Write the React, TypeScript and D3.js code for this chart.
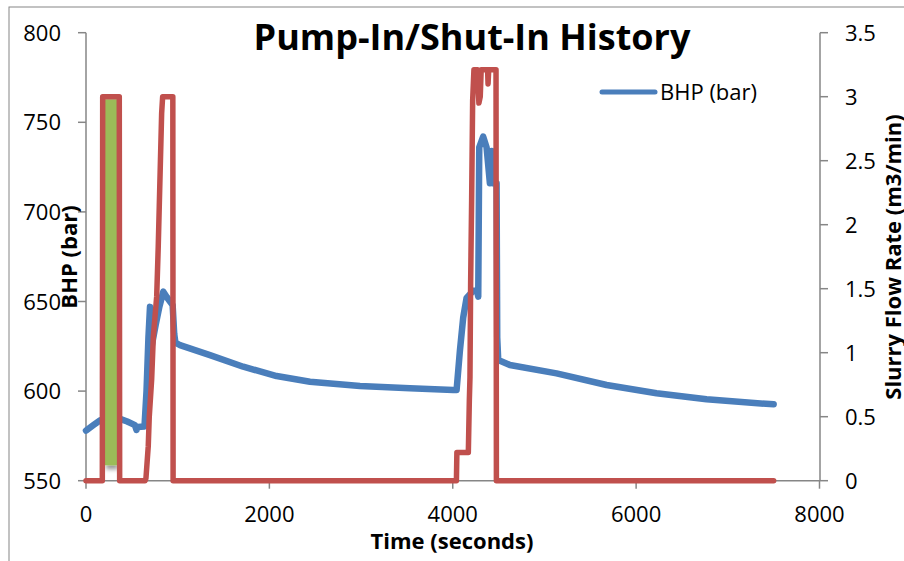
import React from "react";
import * as d3 from "d3";

// ---- data ----
const bhpTime = [0, 80, 153, 240, 371, 450, 534, 551, 562, 638, 660, 681, 698, 709, 716, 760, 800, 843, 880, 916, 945, 962, 975, 1025, 1352, 1715, 2079, 2443, 2988, 3533, 4005, 4042, 4078, 4114, 4151, 4223, 4265, 4278, 4289, 4332, 4369, 4405, 4424, 4441, 4478, 4485, 4496, 4623, 5132, 5678, 6223, 6768, 7500];
const bhpValue = [578, 581, 583.7, 585, 584.5, 583, 581, 578.3, 580, 580.3, 600, 630, 647, 632, 625, 637, 647, 655.5, 652.5, 650, 648, 632, 627, 625.7, 620.1, 613.6, 608.4, 605.2, 602.8, 601.6, 600.6, 600.6, 622.5, 641, 652, 656, 656, 652.7, 736, 742, 736, 716, 734, 716, 716, 630, 617.4, 614.6, 609.9, 603.4, 598.8, 595.4, 592.6];

const rateTime = [0, 178, 182, 363, 367, 645, 654, 679, 690, 716, 734, 771, 788, 799, 825, 836, 947, 950, 4040, 4045, 4170, 4181, 4188, 4195, 4206, 4217, 4231, 4270, 4285, 4300, 4310, 4380, 4385, 4392, 4472, 4476, 7500];
const rateValue = [0, 0, 3.0, 3.0, 0, 0, 0.02, 0.27, 0.5, 0.79, 1.12, 1.44, 1.83, 2.14, 2.87, 3.0, 3.0, 0, 0, 0.22, 0.22, 0.63, 0.81, 1.54, 2.19, 2.97, 3.21, 3.21, 2.95, 3.0, 3.21, 3.21, 3.1, 3.21, 3.21, 0, 0];

// green stage band (time start/end, rate low/high)
const bandTime = [207, 338];
const bandRate = [0.12, 2.98];

const xTicks = [0, 2000, 4000, 6000, 8000];
const leftTicks = [550, 600, 650, 700, 750, 800];
const rightTicks = [0, 0.5, 1, 1.5, 2, 2.5, 3, 3.5];

const title = "Pump-In/Shut-In History";
const xTitle = "Time (seconds)";
const leftTitle = "BHP (bar)";
const rightTitle = "Slurry Flow Rate (m3/min)";
const legendLabel = "BHP (bar)";

const W = 904;
const H = 561;
const FONT = "'Open Sans', 'Noto Sans', sans-serif";
const AXIS = "#868686";
const BLUE = "#4A7EBB";
const RED = "#C0504D";
const GREEN = "#9BBB59";

export default function App() {
  const x = d3.scaleLinear().domain([0, 8000]).range([86, 819.5]);
  const yL = d3.scaleLinear().domain([550, 800]).range([480.7, 32.7]);
  const yR = d3.scaleLinear().domain([0, 3.5]).range([480.7, 32.7]);

  const bhp = bhpTime.map((t, i) => [t, bhpValue[i]] as [number, number]);
  const rate = rateTime.map((t, i) => [t, rateValue[i]] as [number, number]);

  const bhpLine = d3.line<[number, number]>().x((d) => x(d[0])).y((d) => yL(d[1]));
  const rateLine = d3.line<[number, number]>().x((d) => x(d[0])).y((d) => yR(d[1]));

  const x0 = x.range()[0];
  const yb = yL.range()[0];
  const yt = yL.range()[1];

  return (
    <svg
      width={W}
      height={H}
      style={{ position: "absolute", left: 0, top: 0, background: "#fff" }}
      fontFamily={FONT}
    >
      <defs>
        <filter id="shadow" x="-50%" y="-10%" width="200%" height="130%">
          <feGaussianBlur in="SourceAlpha" stdDeviation="2" />
          <feOffset dx="1" dy="4" result="b" />
          <feComponentTransfer>
            <feFuncA type="linear" slope="0.4" />
          </feComponentTransfer>
          <feMerge>
            <feMergeNode />
            <feMergeNode in="SourceGraphic" />
          </feMerge>
        </filter>
      </defs>
      {/* outer frame */}
      <rect x={9} y={7} width={W} height={H} fill="none" stroke={AXIS} strokeWidth={1} />

      {/* axes */}
      <line x1={x0} x2={x0} y1={yt} y2={yb} stroke={AXIS} strokeWidth={1.5} />
      <line x1={820} x2={820} y1={yt} y2={yb} stroke={AXIS} strokeWidth={1.5} />
      <line x1={x0} x2={820} y1={yb} y2={yb} stroke={AXIS} strokeWidth={1.5} />
      {leftTicks.map((v) => (
        <g key={"l" + v}>
          <line x1={x0 - 8} x2={x0} y1={yL(v)} y2={yL(v)} stroke={AXIS} strokeWidth={1.5} />
          <text x={61} y={yL(v) + 8} textAnchor="end" fontSize={22} fill="#000">
            {v}
          </text>
        </g>
      ))}
      {rightTicks.map((v) => (
        <g key={"r" + v}>
          <line x1={820} x2={828} y1={yR(v)} y2={yR(v)} stroke={AXIS} strokeWidth={1.5} />
          <text x={845} y={yR(v) + 8} textAnchor="start" fontSize={22} fill="#000">
            {v}
          </text>
        </g>
      ))}
      {xTicks.map((v) => (
        <g key={"x" + v}>
          <line x1={x(v)} x2={x(v)} y1={yb} y2={yb + 8} stroke={AXIS} strokeWidth={1.5} />
          <text x={x(v)} y={522} textAnchor="middle" fontSize={22} fill="#000">
            {v}
          </text>
        </g>
      ))}

      {/* series */}
      <path d={bhpLine(bhp) || ""} fill="none" stroke={BLUE} strokeWidth={6.5} strokeLinejoin="round" strokeLinecap="round" />
      <rect
        x={x(bandTime[0])}
        y={yR(bandRate[1])}
        width={x(bandTime[1]) - x(bandTime[0])}
        height={yR(bandRate[0]) - yR(bandRate[1])}
        fill={GREEN}
        filter="url(#shadow)"
      />
      <path d={rateLine(rate) || ""} fill="none" stroke={RED} strokeWidth={5.5} strokeLinejoin="round" strokeLinecap="round" />

      {/* titles */}
      <text x={472} y={50} textAnchor="middle" fontSize={36} fontWeight="bold" fill="#000">
        {title}
      </text>
      <text x={452} y={549} textAnchor="middle" fontSize={22} fontWeight="bold" fill="#000">
        {xTitle}
      </text>
      <text transform="translate(77,257) rotate(-90)" textAnchor="middle" fontSize={22} fontWeight="bold" fill="#000">
        {leftTitle}
      </text>
      <text transform="translate(901,257) rotate(-90)" textAnchor="middle" fontSize={22} fontWeight="bold" fill="#000">
        {rightTitle}
      </text>

      {/* legend */}
      <line x1={602} x2={655} y1={92} y2={92} stroke={BLUE} strokeWidth={5} strokeLinecap="round" />
      <text x={660} y={100} fontSize={22} fill="#000">
        {legendLabel}
      </text>
    </svg>
  );
}
